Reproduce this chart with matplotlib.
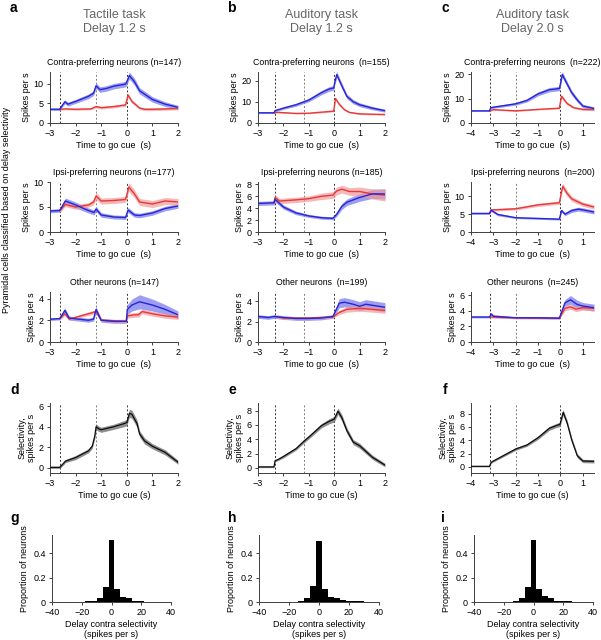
import matplotlib
matplotlib.use('Agg')
import matplotlib.pyplot as plt
import numpy as np

plt.rcParams['font.family'] = ['Liberation Sans', 'DejaVu Sans']
plt.rcParams['font.size'] = 6.5

W, H = 601, 640

# ---- data: (time, mean, half width of band) ----
a_contra_blue = [(-3, 3.5, .3), (-2.62, 3.5, .3), (-2.55, 4.2, .35), (-2.42, 5.4, .5), (-2.3, 4.8, .5),
                 (-2.0, 5.5, .5), (-1.5, 6.8, .6), (-1.3, 7.6, .6), (-1.2, 9.5, .7), (-1.05, 8.5, .7),
                 (-0.8, 8.8, .7), (-0.5, 9.4, .7), (-0.05, 9.9, .7), (0.0, 10.5, .8), (0.1, 12.1, .9),
                 (0.3, 10.5, .9), (0.5, 8.2, .8), (1.0, 6.0, .7), (1.5, 4.8, .6), (2.0, 4.0, .5)]
a_contra_red = [(-2.62, 3.5, .25), (-2.4, 3.6, .25), (-2.0, 3.5, .25), (-1.4, 3.6, .25), (-1.2, 4.2, .35),
                (-1.0, 3.9, .35), (-0.5, 4.2, .35), (-0.05, 4.6, .35), (0.05, 7.1, .55), (0.2, 5.5, .45),
                (0.5, 3.8, .35), (0.7, 3.5, .35), (1.0, 3.5, .35), (1.5, 3.6, .35), (2.0, 3.7, .35)]
b_contra_blue = [(-3, 4.8, .35), (-2.37, 4.8, .35), (-2.33, 5.8, .5), (-2.0, 7.0, .6), (-1.5, 8.6, .7),
                 (-1.0, 10.8, .8), (-0.5, 14.3, 1.0), (-0.2, 16.0, 1.1), (-0.02, 16.5, 1.1), (0.02, 19, 1.3),
                 (0.1, 22.8, 1.4), (0.3, 17.5, 1.3), (0.5, 12.5, 1.1), (0.75, 10.0, 1.0), (1.0, 8.6, .9),
                 (1.5, 7.0, .8), (2.0, 5.8, .7)]
b_contra_red = [(-2.37, 4.8, .25), (-2.2, 5.0, .25), (-1.5, 4.5, .25), (-1.0, 4.6, .25), (-0.5, 5.1, .35),
                (-0.02, 5.6, .35), (0.05, 11.5, .7), (0.2, 8.8, .6), (0.4, 6.3, .45), (0.6, 5.0, .35),
                (1.0, 4.3, .35), (2.0, 4.0, .35)]
c_contra_blue = [(-4, 5.0, .25), (-3.17, 5.0, .25), (-3.12, 6.3, .45), (-3.0, 6.5, .45), (-2.0, 7.9, .55),
                 (-1.5, 9.3, .65), (-1.0, 12.0, .8), (-0.5, 13.7, .9), (-0.05, 14.2, .9), (0.02, 17, 1.1),
                 (0.08, 20.0, 1.2), (0.3, 16.0, 1.1), (0.5, 12.5, 1.0), (0.75, 9.5, .9), (1.0, 7.0, .7),
                 (1.5, 6.0, .6)]
c_contra_red = [(-3.17, 5.0, .25), (-3.0, 5.5, .25), (-2.0, 5.0, .25), (-1.0, 5.6, .25), (-0.05, 6.1, .35),
                (0.05, 11.0, .7), (0.3, 8.0, .6), (0.6, 6.3, .45), (1.0, 5.6, .45), (1.5, 5.5, .45)]

a_ipsi_blue = [(-3, 4.2, .35), (-2.62, 4.3, .35), (-2.4, 6.2, .6), (-2.0, 5.4, .6), (-1.5, 4.3, .5),
               (-1.28, 3.9, .5), (-1.2, 4.6, .5), (-1.0, 3.4, .45), (-0.5, 3.0, .4), (-0.05, 2.9, .4),
               (0.05, 4.4, .5), (0.3, 3.4, .45), (0.5, 3.3, .45), (1.0, 3.8, .45), (1.5, 4.7, .45), (2.0, 5.2, .45)]
a_ipsi_red = [(-2.62, 4.3, .35), (-2.4, 5.5, .45), (-2.0, 5.0, .45), (-1.5, 5.4, .45), (-1.3, 6.0, .55),
              (-1.2, 7.2, .7), (-1.0, 6.2, .6), (-0.5, 6.3, .6), (-0.05, 6.5, .6), (0.08, 9.0, .9),
              (0.3, 7.6, .8), (0.5, 6.0, .7), (1.0, 5.6, .7), (1.5, 6.2, .7), (2.0, 6.0, .7)]
b_ipsi_blue = [(-3, 4.8, .35), (-2.37, 4.9, .35), (-2.33, 5.5, .45), (-2.0, 4.2, .35), (-1.5, 3.2, .3),
               (-1.0, 2.7, .25), (-0.5, 2.4, .25), (-0.05, 2.3, .25), (0.1, 3.0, .35), (0.3, 4.3, .5),
               (0.5, 5.0, .55), (1.0, 5.8, .65), (1.5, 6.4, .75), (2.0, 6.4, .85)]
b_ipsi_red = [(-2.37, 4.9, .35), (-2.33, 5.8, .45), (-2.15, 5.2, .45), (-1.5, 5.4, .45), (-1.0, 5.6, .45),
              (-0.5, 6.0, .55), (-0.05, 6.2, .55), (0.1, 6.9, .65), (0.3, 7.2, .65), (0.6, 6.8, .65),
              (1.0, 6.8, .75), (1.5, 6.4, .85), (2.0, 6.2, 1.0)]
c_ipsi_blue = [(-4, 5.2, .25), (-3.17, 5.2, .25), (-3.1, 6.1, .35), (-2.8, 4.9, .35), (-2.0, 4.0, .25),
               (-1.0, 3.8, .25), (-0.05, 3.6, .25), (0.05, 6.0, .45), (0.2, 5.0, .45), (0.5, 6.0, .55),
               (0.8, 6.4, .55), (1.0, 6.2, .55), (1.5, 5.6, .55)]
c_ipsi_red = [(-3.17, 5.2, .25), (-3.1, 6.2, .35), (-3.0, 6.2, .35), (-2.0, 6.5, .35), (-1.0, 7.6, .45),
              (-0.05, 8.2, .45), (0.1, 12.8, .9), (0.3, 10.8, .8), (0.5, 9.3, .7), (1.0, 7.8, .6),
              (1.5, 7.0, .6)]

a_other_blue = [(-3, 2.1, .12), (-2.62, 2.15, .12), (-2.42, 2.9, .25), (-2.25, 2.2, .18), (-1.5, 2.0, .18),
                (-1.3, 2.1, .18), (-1.2, 3.0, .25), (-1.0, 2.0, .18), (-0.5, 1.9, .18), (-0.02, 1.9, .18),
                (0.02, 3.0, .45), (0.2, 3.4, .55), (0.5, 3.7, .65), (1.0, 3.4, .55), (1.5, 3.0, .45), (2.0, 2.5, .35)]
a_other_red = [(-2.62, 2.15, .12), (-2.42, 2.6, .18), (-2.25, 2.1, .12), (-1.2, 2.8, .18), (-1.0, 2.0, .12),
               (-0.02, 1.9, .12), (0.02, 2.4, .22), (0.3, 2.5, .22), (0.45, 2.5, .22), (0.6, 2.8, .22),
               (1.0, 2.6, .22), (1.5, 2.4, .22), (2.0, 2.3, .22)]
b_other_blue = [(-3, 2.5, .18), (-2.6, 2.4, .18), (-2.35, 2.5, .18), (-2.0, 2.4, .18), (-1.5, 2.3, .18),
                (-1.0, 2.3, .18), (-0.5, 2.35, .18), (-0.05, 2.5, .18), (0.2, 3.8, .45), (0.4, 3.9, .45),
                (0.75, 3.7, .45), (1.0, 3.5, .45), (1.25, 3.7, .45), (1.5, 3.6, .45), (2.0, 3.4, .45)]
b_other_red = [(-2.35, 2.5, .12), (-2.0, 2.35, .12), (-1.0, 2.35, .12), (-0.05, 2.45, .12), (0.2, 2.9, .22),
               (0.5, 3.2, .28), (1.0, 3.3, .28), (1.5, 3.2, .28), (2.0, 3.1, .28)]
c_other_blue = [(-4, 3.2, .12), (-3.17, 3.2, .12), (-3.1, 3.6, .18), (-3.0, 3.3, .18), (-2.0, 3.1, .12),
                (-1.0, 3.1, .12), (-0.05, 3.05, .12), (0.2, 5.0, .45), (0.45, 5.4, .55), (0.75, 4.8, .55),
                (1.0, 4.6, .45), (1.5, 4.4, .45)]
c_other_red = [(-3.17, 3.2, .12), (-2.0, 3.1, .12), (-0.05, 3.05, .12), (0.2, 4.3, .32), (0.45, 4.5, .32),
               (0.7, 4.2, .32), (1.0, 4.4, .32), (1.5, 4.3, .32)]

d_sel = [(-3, 0.05, .1), (-2.62, 0.05, .1), (-2.45, 0.5, .15), (-2.4, 0.65, .15), (-2.0, 1.0, .2),
         (-1.5, 1.65, .2), (-1.35, 2.1, .2), (-1.25, 3.1, .25), (-1.2, 4.0, .3), (-1.1, 3.8, .25),
         (-1.0, 3.7, .25), (-0.5, 4.0, .25), (-0.1, 4.3, .3), (0.0, 4.4, .3), (0.1, 5.3, .4),
         (0.2, 5.2, .4), (0.4, 4.3, .35), (0.5, 3.3, .3), (0.7, 2.6, .3), (1.0, 2.1, .25),
         (1.5, 1.5, .25), (2.0, 0.55, .2)]
e_sel = [(-3, 0.15, .1), (-2.37, 0.15, .1), (-2.33, 1.0, .15), (-2.2, 1.2, .15), (-2.0, 1.6, .2),
         (-1.5, 2.7, .2), (-1.2, 3.7, .25), (-1.0, 4.3, .25), (-0.5, 5.9, .3), (-0.2, 6.5, .35),
         (0.0, 6.8, .4), (0.15, 7.9, .45), (0.3, 7.0, .45), (0.5, 5.2, .4), (0.75, 3.6, .35),
         (1.0, 3.1, .35), (1.5, 1.5, .3), (2.0, 0.4, .25)]
f_sel = [(-4, 0.1, .08), (-3.17, 0.1, .08), (-3.1, 0.7, .15), (-3.0, 0.9, .15), (-2.0, 2.7, .2),
         (-1.5, 3.3, .2), (-1.0, 4.4, .25), (-0.5, 5.8, .3), (-0.2, 6.2, .3), (-0.02, 6.4, .35),
         (0.12, 8.2, .4), (0.3, 6.6, .4), (0.5, 4.1, .35), (0.75, 1.7, .3), (1.0, 0.9, .25),
         (1.5, 0.85, .25)]

# histograms: bin centres and proportions
hist_centres = [-20, -16, -12, -8, -4, 0, 4, 8, 12, 16, 20, 24, 28, 32, 36]
g_prop = [0.002, 0.005, 0.01, 0.03, 0.12, 0.51, 0.11, 0.04, 0.03, 0.01, 0.005, 0.004, 0.002, 0.0, 0.0]
h_prop = [0.003, 0.004, 0.008, 0.03, 0.13, 0.50, 0.11, 0.04, 0.03, 0.02, 0.012, 0.01, 0.006, 0.004, 0.003]
i_prop = [0.002, 0.004, 0.01, 0.03, 0.12, 0.51, 0.11, 0.05, 0.03, 0.01, 0.006, 0.005, 0.002, 0.0, 0.0]

# task epochs (sample onset, delay onset, go cue)
epochs = {'a': [-2.62, -1.2, 0.0], 'b': [-2.35, -1.2, 0.0], 'c': [-3.15, -2.0, 0.0]}
xlims = {'a': (-3, 2), 'b': (-3, 2), 'c': (-4, 1.5)}
xticks = {'a': [-3, -2, -1, 0, 1, 2], 'b': [-3, -2, -1, 0, 1, 2], 'c': [-4, -3, -2, -1, 0, 1]}

col_titles = ['Tactile task\nDelay 1.2 s', 'Auditory task\nDelay 1.2 s', 'Auditory task\nDelay 2.0 s']
row_titles = [['Contra-preferring neurons (n=147)', 'Ipsi-preferring neurons (n=177)', 'Other neurons (n=147)'],
              ['Contra-preferring neurons  (n=155)', 'Ipsi-preferring neurons (n=185)', 'Other neurons  (n=199)'],
              ['Contra-preferring neurons  (n=222)', 'Ipsi-preferring neurons  (n=200)', 'Other neurons  (n=245)']]

BLUE, BLUE_F = '#2626d6', '#8585ee'
RED, RED_F = '#e5393a', '#f29b9b'

fig = plt.figure(figsize=(W / 100, H / 100), dpi=100)


def box(l, t, r, b):
    return [l / W, 1 - b / H, (r - l) / W, (b - t) / H]


def style(ax):
    for s in ['top', 'right']:
        ax.spines[s].set_visible(False)
    for s in ['left', 'bottom']:
        ax.spines[s].set_linewidth(0.7)
        ax.spines[s].set_color('0.25')
    ax.tick_params(direction='out', length=2.5, width=0.7, color='0.25', pad=2, labelsize=6.5)


def band(ax, data, fill, alpha=0.75):
    t = np.array([p[0] for p in data])
    m = np.array([p[1] for p in data])
    e = np.array([p[2] for p in data])
    ax.fill_between(t, m - e, m + e, color=fill, alpha=alpha, lw=0, zorder=2)
    return t, m


def epoch_lines(ax, key):
    for i, x in enumerate(epochs[key]):
        ax.axvline(x, color='0.2' if i != 1 else '0.5', ls=(0, (2, 2)), lw=0.7, zorder=1)


cols = {'a': (50, 178), 'b': (258, 385), 'c': (471, 594)}
rows = [(72, 123), (182, 232), (292, 342)]
ylims = {'a': [(0, 13), (0, 10), (0, 4.6)],
         'b': [(0, 24), (0, 8.4), (0, 4.9)],
         'c': [(0, 21), (0, 14), (0, 6.4)]}
yticks = {'a': [[0, 5, 10], [0, 5, 10], [0, 2, 4]],
          'b': [[0, 10, 20], [0, 2, 4, 6, 8], [0, 2, 4]],
          'c': [[0, 10, 20], [0, 5, 10], [0, 2, 4, 6]]}
series = {'a': [(a_contra_blue, a_contra_red), (a_ipsi_blue, a_ipsi_red), (a_other_blue, a_other_red)],
          'b': [(b_contra_blue, b_contra_red), (b_ipsi_blue, b_ipsi_red), (b_other_blue, b_other_red)],
          'c': [(c_contra_blue, c_contra_red), (c_ipsi_blue, c_ipsi_red), (c_other_blue, c_other_red)]}

for ci, key in enumerate(['a', 'b', 'c']):
    l, r = cols[key]
    for ri, (t, b) in enumerate(rows):
        ax = fig.add_axes(box(l, t, r, b))
        style(ax)
        blue, red = series[key][ri]
        epoch_lines(ax, key)
        tb, mb = band(ax, blue, BLUE_F, 0.8)
        tr, mr = band(ax, red, RED_F, 0.7)
        ax.plot(tr, mr, color=RED, lw=1.0, zorder=3)
        ax.plot(tb, mb, color=BLUE, lw=1.0, zorder=4)
        ax.set_xlim(*xlims[key])
        ax.set_ylim(*ylims[key][ri])
        ax.set_xticks(xticks[key])
        ax.set_yticks(yticks[key][ri])
        ax.set_ylabel('Spikes per s', labelpad=2)
        ax.set_xlabel('Time to go cue  (s)', labelpad=2)
        ax.set_title(row_titles[ci][ri], fontsize=6.3, pad=5)
    fig.text((l + r) / 2 / W, 1 - 22 / H, col_titles[ci], ha='center', va='center',
             fontsize=9, color='0.4', linespacing=1.25)

# selectivity row
sel = {'a': d_sel, 'b': e_sel, 'c': f_sel}
sel_ylim = {'a': (-0.5, 6.3), 'b': (-0.7, 9.05), 'c': (-0.9, 9.6)}
sel_yticks = {'a': [0, 2, 4, 6], 'b': [0, 2, 4, 6, 8], 'c': [0, 2, 4, 6, 8]}
for key in ['a', 'b', 'c']:
    l, r = cols[key]
    ax = fig.add_axes(box(l, 403, r, 473))
    style(ax)
    epoch_lines(ax, key)
    t, m = band(ax, sel[key], '0.45', 0.8)
    ax.plot(t, m, color='0.05', lw=0.9, zorder=3)
    ax.set_xlim(*xlims[key])
    ax.set_ylim(*sel_ylim[key])
    ax.set_xticks(xticks[key])
    ax.set_yticks(sel_yticks[key])
    ax.set_ylabel('Selectivity,\nspikes per s', labelpad=2, linespacing=1.1)
    ax.set_xlabel('Time to go cue (s)', labelpad=2)

# histograms
hcols = {'a': (52, 171), 'b': (259, 379), 'c': (474, 593)}
hdata = {'a': g_prop, 'b': h_prop, 'c': i_prop}
for key in ['a', 'b', 'c']:
    l, r = hcols[key]
    ax = fig.add_axes(box(l, 535, r, 602))
    style(ax)
    ax.bar(hist_centres, hdata[key], width=4, color='k', linewidth=0)
    ax.set_xlim(-40, 40)
    ax.set_ylim(0, 0.55)
    ax.set_xticks([-40, -20, 0, 20, 40])
    ax.set_yticks([0, 0.2, 0.4])
    ax.set_yticklabels(['0', '0.2', '0.4'])
    ax.set_ylabel('Proportion of neurons', labelpad=3)
    ax.set_xlabel('Delay contra selectivity\n(spikes per s)', labelpad=2, linespacing=1.2)

# panel letters
letters = [('a', 13, 8), ('b', 231, 8), ('c', 445, 8), ('d', 15, 390), ('e', 232, 390),
           ('f', 445, 390), ('g', 15, 518), ('h', 232, 518), ('i', 443, 518)]
for s, x, y in letters:
    fig.text(x / W, 1 - y / H, s, fontsize=10, fontweight='bold', ha='center', va='center')

fig.text(7 / W, 1 - 210 / H, 'Pyramidal cells classified based on delay selectivity',
         rotation=90, ha='center', va='center', fontsize=6.5)

fig.savefig('out.png', dpi=100)
